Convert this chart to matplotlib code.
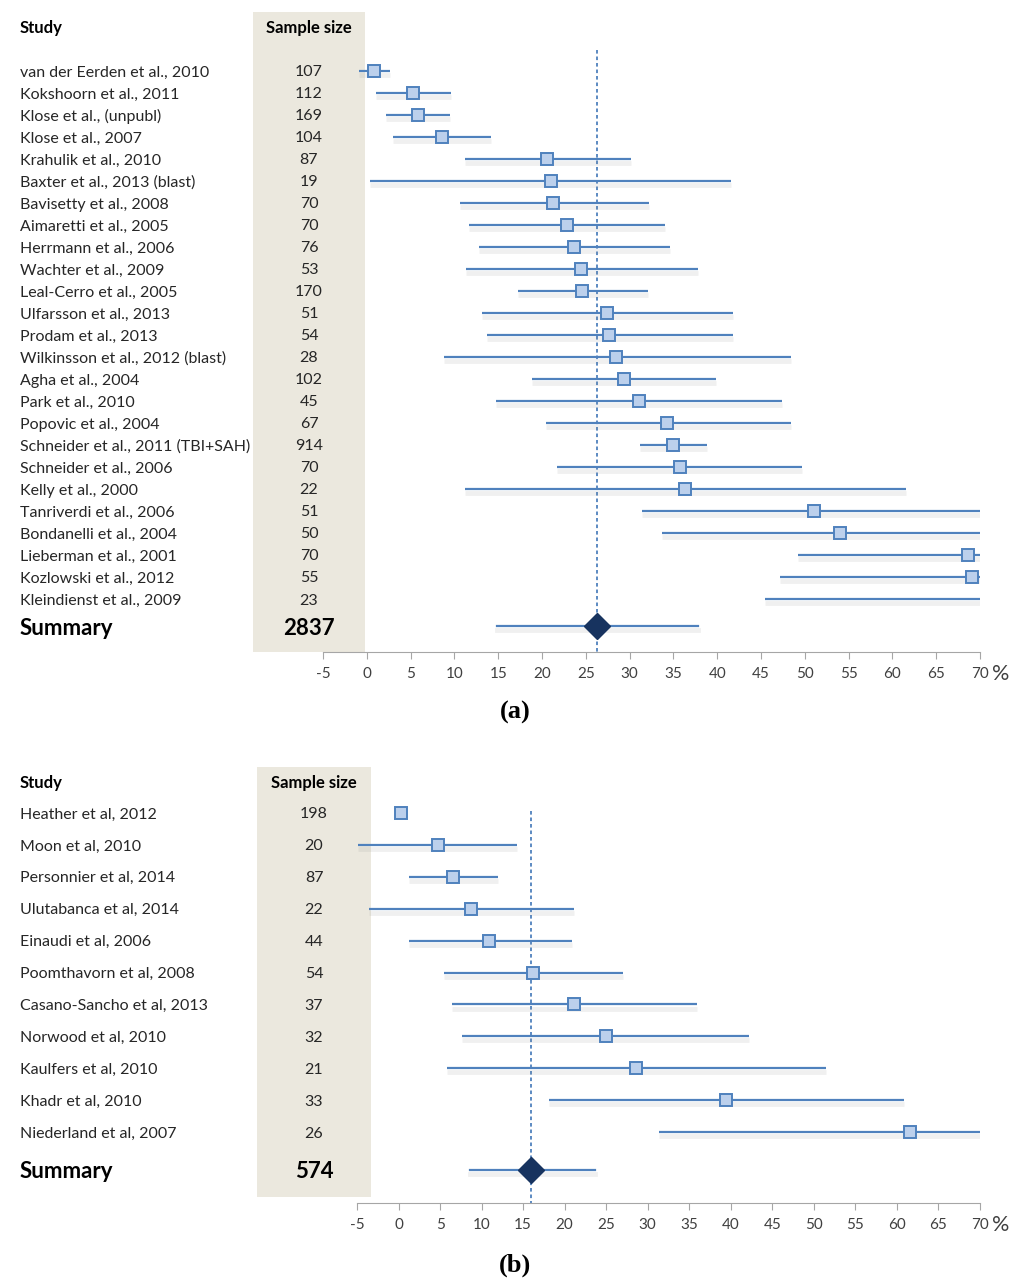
import matplotlib
matplotlib.use("Agg")
import matplotlib.pyplot as plt
import matplotlib.patheffects as pe
from matplotlib.patches import Rectangle
from matplotlib.transforms import blended_transform_factory

plt.rcParams['font.family'] = ['Lato', 'DejaVu Sans']

# ─── Data: panel (a) ─────────────────────────────────────
studies_a = [
    "van der Eerden et al., 2010", "Kokshoorn et al., 2011", "Klose et al., (unpubl)",
    "Klose et al., 2007", "Krahulik et al., 2010", "Baxter et al., 2013 (blast)",
    "Bavisetty et al., 2008", "Aimaretti et al., 2005", "Herrmann et al., 2006",
    "Wachter et al., 2009", "Leal-Cerro et al., 2005", "Ulfarsson et al., 2013",
    "Prodam et al., 2013", "Wilkinsson et al., 2012 (blast)", "Agha et al., 2004",
    "Park et al., 2010", "Popovic et al., 2004", "Schneider et al., 2011 (TBI+SAH)",
    "Schneider et al., 2006", "Kelly et al., 2000", "Tanriverdi et al., 2006",
    "Bondanelli et al., 2004", "Lieberman et al., 2001", "Kozlowski et al., 2012",
    "Kleindienst et al., 2009",
]
n_a = [107, 112, 169, 104, 87, 19, 70, 70, 76, 53, 170, 51, 54, 28, 102, 45, 67,
       914, 70, 22, 51, 50, 70, 55, 23]
est_a = [0.8, 5.3, 5.9, 8.6, 20.6, 21.0, 21.3, 22.8, 23.6, 24.4, 24.6, 27.4, 27.7,
         28.5, 29.4, 31.1, 34.3, 35.0, 35.7, 36.3, 51.0, 54.0, 68.6, 69.1, 74.0]
lo_a = [-0.9, 1.1, 2.2, 3.0, 11.2, 0.4, 10.6, 11.7, 12.8, 11.3, 17.3, 13.2, 13.7,
        8.8, 18.9, 14.8, 20.4, 31.2, 21.7, 11.2, 31.4, 33.7, 49.2, 47.2, 45.5]
hi_a = [2.6, 9.6, 9.5, 14.2, 30.2, 41.6, 32.2, 34.0, 34.6, 37.8, 32.1, 41.8, 41.8,
        48.4, 39.9, 47.4, 48.4, 38.8, 49.7, 61.6, 70.0, 70.0, 70.0, 70.0, 70.0]
sum_est_a, sum_lo_a, sum_hi_a, total_a = 26.3, 14.9, 37.8, 2837

# ─── Data: panel (b) ─────────────────────────────────────
studies_b = [
    "Heather et al, 2012", "Moon et al, 2010", "Personnier et al, 2014",
    "Ulutabanca et al, 2014", "Einaudi et al, 2006", "Poomthavorn et al, 2008",
    "Casano-Sancho et al, 2013", "Norwood et al, 2010", "Kaulfers et al, 2010",
    "Khadr et al, 2010", "Niederland et al, 2007",
]
n_b = [198, 20, 87, 22, 44, 54, 37, 32, 21, 33, 26]
est_b = [0.3, 4.7, 6.6, 8.7, 10.9, 16.2, 21.1, 25.0, 28.6, 39.4, 61.6]
lo_b = [0.0, -4.9, 1.2, -3.6, 1.2, 5.5, 6.4, 7.7, 5.8, 18.1, 31.4]
hi_b = [0.6, 14.3, 12.0, 21.1, 20.9, 27.0, 35.9, 42.2, 51.5, 60.8, 70.0]
sum_est_b, sum_lo_b, sum_hi_b, total_b = 16.0, 8.6, 23.6, 574

ticks = list(range(-5, 71, 5))

# ─── Styling ─────────────────────────────────────────────
W, H = 1024, 1287
BLUE = "#4f81bd"
FILL = "#bcd0ec"
NAVY = "#17335f"
SHADE = "#ebe8de"
GREY = "#a6a6a6"
TXT = "#262626"

fig = plt.figure(figsize=(W / 100, H / 100), dpi=100)
fig.patch.set_facecolor("white")

shadow = [pe.SimpleLineShadow(offset=(0, -3), shadow_color="#888888", alpha=0.12, linewidth=3.5),
          pe.Normal()]


def fx(px):
    return px / W


def fy(py):
    return 1 - py / H


def forest(studies, n, est, lo, hi, s_est, s_lo, s_hi, total,
           left, right, top, bottom, row0, step, sum_y, dash_top,
           shade, name_fs, sq_size, dia_size, label, label_y):
    # shaded sample-size column (behind everything)
    sx0, sx1, sy0, sy1 = shade
    fig.patches.append(Rectangle((fx(sx0), fy(sy1)), (sx1 - sx0) / W, (sy1 - sy0) / H,
                                 transform=fig.transFigure, facecolor=SHADE,
                                 edgecolor="none", zorder=-5))

    ax = fig.add_axes([fx(left), fy(bottom), (right - left) / W, (bottom - top) / H])
    ax.patch.set_visible(False)
    y_top = (top - row0) / step
    y_bot = (bottom - row0) / step
    ax.set_xlim(-5, 70)
    ax.set_ylim(y_bot, y_top)

    rows = list(range(len(studies)))
    ys = (sum_y - row0) / step
    ax.plot([s_est, s_est], [(dash_top - row0) / step, y_bot], color=BLUE, lw=1.3,
            ls=(0, (2, 1.6)), zorder=1, clip_on=False)

    for i in rows:
        ax.plot([lo[i], hi[i]], [i, i], color=BLUE, lw=1.6, solid_capstyle="butt",
                path_effects=shadow, zorder=2)
        ax.plot(est[i], i, marker="s", ms=sq_size, mfc=FILL, mec=BLUE, mew=1.4, zorder=3)

    ax.plot([s_lo, s_hi], [ys, ys], color=BLUE, lw=1.6, path_effects=shadow, zorder=2)
    ax.plot(s_est, ys, marker="D", ms=dia_size, color=NAVY, zorder=4, clip_on=False)

    tr = blended_transform_factory(fig.transFigure, ax.transData)
    cx = (sx0 + sx1) / 2 / W
    for i in rows:
        fig.text(fx(20), 0, studies[i], transform=tr, ha="left", va="center_baseline",
                 fontsize=name_fs, color=TXT).set_y(i)
        fig.text(cx, 0, str(n[i]), transform=tr, ha="center", va="center_baseline",
                 fontsize=name_fs, color=TXT).set_y(i)
    fig.text(fx(20), 0, "Summary", transform=tr, ha="left", va="center_baseline",
             fontsize=name_fs + 4.5, fontweight="bold", color="black").set_y(ys)
    fig.text(cx, 0, str(total), transform=tr, ha="center", va="center_baseline",
             fontsize=name_fs + 4.5, fontweight="bold", color="black").set_y(ys)
    head_y = fy(sy0 + 16)
    fig.text(fx(20), head_y, "Study", ha="left", va="center", fontsize=name_fs + 0.5,
             fontweight="bold", color="black")
    fig.text(cx, head_y, "Sample size", ha="center", va="center", fontsize=name_fs + 0.5,
             fontweight="bold", color="black")

    # axis
    for s in ["top", "right", "left"]:
        ax.spines[s].set_visible(False)
    ax.spines["bottom"].set_color(GREY)
    ax.set_yticks([])
    ax.set_xticks(ticks)
    ax.set_xticklabels([str(t) for t in ticks])
    ax.tick_params(axis="x", direction="out", length=5, color=GREY, labelsize=name_fs - 0.5,
                   labelcolor="#404040", pad=6)
    fig.text(fx(right + 12), fy(bottom + 22), "%", ha="left", va="center",
             fontsize=name_fs + 4, color="#404040")

    fig.text(fx(515), fy(label_y), "(" + label + ")", ha="center", va="center",
             fontsize=19, fontweight="bold", family="Liberation Serif")
    return ax


forest(studies_a, n_a, est_a, lo_a, hi_a, sum_est_a, sum_lo_a, sum_hi_a, total_a,
       left=323, right=980, top=50, bottom=652, row0=71, step=22, sum_y=626, dash_top=50,
       shade=(253, 365, 12, 652), name_fs=11.5, sq_size=8.5, dia_size=13,
       label="a", label_y=712)

forest(studies_b, n_b, est_b, lo_b, hi_b, sum_est_b, sum_lo_b, sum_hi_b, total_b,
       left=357, right=980, top=795, bottom=1203, row0=813, step=31.9, sum_y=1170,
       dash_top=811, shade=(257, 371, 767, 1197), name_fs=11.5, sq_size=9, dia_size=13,
       label="b", label_y=1265)

fig.savefig("out.png", dpi=100)
